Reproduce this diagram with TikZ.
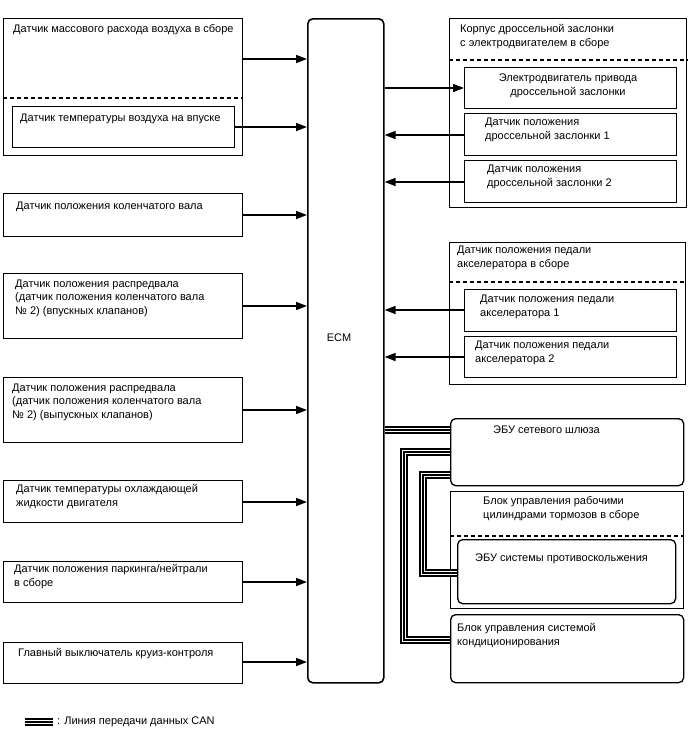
\documentclass[tikz,border=0pt]{standalone}
\usepackage{fontspec}
\setmainfont{Liberation Sans}
\usetikzlibrary{arrows.meta}
\tikzset{
  box/.style={draw, line width=1.3pt, anchor=north west, inner sep=0pt},
  rbox/.style={box, rounded corners=5pt},
  lbl/.style={anchor=base west, inner sep=0pt, align=left, font=\fontsize{11}{13.5}\selectfont},
  clbl/.style={anchor=base, inner sep=0pt, align=center, font=\fontsize{11}{13.5}\selectfont},
  arr/.style={line width=1.6pt, -{Triangle[length=11pt,width=8pt]}},
  dsh/.style={line width=1.1pt, dash pattern=on 4pt off 3pt},
  canA/.style={line width=7.6pt, black, line join=miter},
  canB/.style={line width=4.6pt, white, line join=miter},
  canC/.style={line width=1.6pt, black, line join=miter},
}
\newcommand\canline[1]{\draw[canA] #1; \draw[canB] #1; \draw[canC] #1;}
\begin{document}
\begin{tikzpicture}[x=1pt,y=-1pt]
\useasboundingbox (0,0) rectangle (688,755);
% ECM
\node[rbox, line width=1.6pt, minimum width=76pt, minimum height=664pt] (ecm) at (307,18) {};
\node[anchor=center, font=\fontsize{11}{13.5}\selectfont] (ecmlbl) at (339,338) {ECM};
% left boxes
\node[box, minimum width=239pt, minimum height=137pt] (maf) at (3,18) {};
\node[box, minimum width=222pt, minimum height=41pt] (iat) at (12,106) {};
\node[box, minimum width=239pt, minimum height=43pt] (crank) at (3,193) {};
\node[box, minimum width=239pt, minimum height=65pt] (camin) at (3,273) {};
\node[box, minimum width=239pt, minimum height=65pt] (camex) at (3,377) {};
\node[box, minimum width=239pt, minimum height=42pt] (ect) at (3,480) {};
\node[box, minimum width=239pt, minimum height=41pt] (pnp) at (3,561) {};
\node[box, minimum width=239pt, minimum height=41pt] (cruise) at (3,642) {};
\draw[dsh] (maf.west |- 0,98) -- (maf.east |- 0,98);
\node[lbl] (tmaf) at (13,32) {Датчик массового расхода воздуха в сборе};
\node[lbl] (tiat) at (20,121) {Датчик температуры воздуха на впуске};
\node[lbl] (tcrank) at (16,209) {Датчик положения коленчатого вала};
\node[lbl] (tcamin) at (15,314) {Датчик положения распредвала\\(датчик положения коленчатого вала\\№ 2) (впускных клапанов)};
\node[lbl] (tcamex) at (12,418) {Датчик положения распредвала\\(датчик положения коленчатого вала\\№ 2) (выпускных клапанов)};
\node[lbl] (tect) at (16,506) {Датчик температуры охлаждающей\\жидкости двигателя};
\node[lbl] (tpnp) at (14,586) {Датчик положения паркинга/нейтрали\\в сборе};
\node[lbl] (tcruise) at (18,656) {Главный выключатель круиз-контроля};
% left arrows
\draw[arr] (maf.east |- 0,59) -- (ecm.west |- 0,59);
\draw[arr] (iat.east |- 0,127) -- (ecm.west |- 0,127);
\draw[arr] (crank.east |- 0,215) -- (ecm.west |- 0,215);
\draw[arr] (camin.east |- 0,306) -- (ecm.west |- 0,306);
\draw[arr] (camex.east |- 0,410) -- (ecm.west |- 0,410);
\draw[arr] (ect.east |- 0,502) -- (ecm.west |- 0,502);
\draw[arr] (pnp.east |- 0,582) -- (ecm.west |- 0,582);
\draw[arr] (cruise.east |- 0,662) -- (ecm.west |- 0,662);
% right: throttle body
\node[box, minimum width=237pt, minimum height=189pt] (thr) at (449,18) {};
\draw[dsh] (thr.west |- 0,60) -- (thr.east |- 0,60);
\node[box, minimum width=212pt, minimum height=41pt] (thrmot) at (464,67) {};
\node[box, minimum width=212pt, minimum height=42pt] (tp1) at (464,113) {};
\node[box, minimum width=212pt, minimum height=42pt] (tp2) at (464,160) {};
\node[lbl] (tthr) at (460,46) {Корпус дроссельной заслонки\\с электродвигателем в сборе};
\node[clbl] (tthrmot) at (568,95) {Электродвигатель привода\\дроссельной заслонки};
\node[lbl] (ttp1) at (485,139) {Датчик положения\\дроссельной заслонки 1};
\node[lbl] (ttp2) at (487,186) {Датчик положения\\дроссельной заслонки 2};
\draw[arr] (ecm.east |- 0,88) -- (thrmot.west |- 0,88);
\draw[arr] (tp1.west |- 0,135) -- (ecm.east |- 0,135);
\draw[arr] (tp2.west |- 0,182) -- (ecm.east |- 0,182);
% accelerator
\node[box, minimum width=236pt, minimum height=142pt] (app) at (449,242) {};
\draw[dsh] (app.west |- 0,282) -- (app.east |- 0,282);
\node[box, minimum width=212pt, minimum height=42pt] (app1) at (464,289) {};
\node[box, minimum width=212pt, minimum height=41pt] (app2) at (464,336) {};
\node[lbl] (tapp) at (457,267) {Датчик положения педали\\акселератора в сборе};
\node[lbl] (tapp1) at (480,316) {Датчик положения педали\\акселератора 1};
\node[lbl] (tapp2) at (475,362) {Датчик положения педали\\акселератора 2};
\draw[arr] (app1.west |- 0,310) -- (ecm.east |- 0,310);
\draw[arr] (app2.west |- 0,357) -- (ecm.east |- 0,357);
% CAN units
\node[rbox, minimum width=233pt, minimum height=67pt] (gw) at (450,418) {};
\node[box, minimum width=233pt, minimum height=117pt] (brake) at (450,491) {};
\draw[dsh] (brake.west |- 0,536) -- (brake.east |- 0,536);
\node[rbox, minimum width=218pt, minimum height=64pt] (abs) at (457,539) {};
\node[rbox, minimum width=233pt, minimum height=68pt] (ac) at (450,614) {};
\node[lbl] (tgw) at (493,433) {ЭБУ сетевого шлюза};
\node[lbl] (tbrake) at (483,518) {Блок управления рабочими\\цилиндрами тормозов в сборе};
\node[lbl] (tabs) at (475,561) {ЭБУ системы противоскольжения};
\node[lbl] (tac) at (457,645) {Блок управления системой\\кондиционирования};
% CAN lines
\canline{(ecm.east |- 0,430) -- (gw.west |- 0,430)}
\canline{(gw.west |- 0,452) -- (404,452) -- (404,640) -- (ac.west |- 0,640)}
\canline{(gw.west |- 0,475) -- (423,475) -- (423,573) -- (abs.west |- 0,573)}
% legend
\coordinate (lgA) at (25,722);
\coordinate (lgB) at (53,722);
\canline{(lgA) -- (lgB)}
\node[anchor=west, inner sep=0pt, font=\fontsize{11}{13.5}\selectfont] (tlg) at (57,722) {: Линия передачи данных CAN};
\end{tikzpicture}
\end{document}
